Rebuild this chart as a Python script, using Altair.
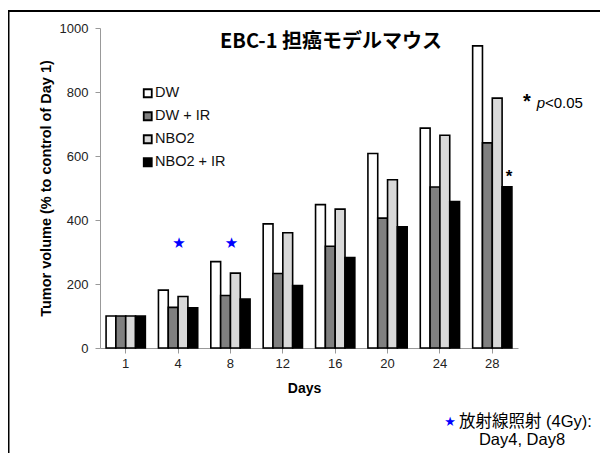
import altair as alt
import pandas as pd

# ---- data ----
days = ["1", "4", "8", "12", "16", "20", "24", "28"]
groups = ["DW", "DW + IR", "NBO2", "NBO2 + IR"]
dw = [100, 181, 270, 388, 448, 608, 687, 944]
dw_ir = [100, 127, 164, 233, 318, 406, 503, 641]
nbo2 = [100, 161, 234, 360, 434, 526, 665, 781]
nbo2_ir = [100, 126, 153, 195, 283, 379, 458, 504]
fill_colors = ["#ffffff", "#808080", "#d9d9d9", "#000000"]
y_ticks = [0, 200, 400, 600, 800, 1000]

irradiation_days = ["4", "8"]
irradiation_marker_level = [328, 328]
significant_day = ["28"]
significant_group = ["NBO2 + IR"]
significant_value = [504]

title_text = "EBC-1 担癌モデルマウス"
y_title = "Tumor volume (% to control of Day 1)"
x_title = "Days"
note_line1 = "放射線照射 (4Gy):"
note_line2 = "Day4, Day8"

# ---- tables ----
series = {"DW": dw, "DW + IR": dw_ir, "NBO2": nbo2, "NBO2 + IR": nbo2_ir}
rows = [{"Day": d, "Group": g, "Volume": v}
        for g in groups for d, v in zip(days, series[g])]
df = pd.DataFrame(rows)
stars_df = pd.DataFrame({"Day": irradiation_days, "Level": irradiation_marker_level})
sig_df = pd.DataFrame({"Day": significant_day, "Group": significant_group,
                       "Volume": significant_value})

W, H = 418, 320
LATIN = "Liberation Sans"
MIXED = "Liberation Sans, Noto Sans CJK JP"

x_scale = alt.Scale(domain=days, paddingInner=0.25, paddingOuter=0.116)
xo_scale = alt.Scale(domain=groups, paddingInner=0, paddingOuter=0)
y_scale = alt.Scale(domain=[0, 1000], nice=False)

bars = alt.Chart(df).mark_bar(stroke="black", strokeWidth=1.6).encode(
    x=alt.X("Day:N", scale=x_scale,
            axis=alt.Axis(title=x_title, labelAngle=0, tickSize=5, labelPadding=4,
                          titlePadding=11, titleX=204, labelFontSize=13,
                          titleFontSize=14)),
    xOffset=alt.XOffset("Group:N", scale=xo_scale),
    y=alt.Y("Volume:Q", scale=y_scale,
            axis=alt.Axis(title=y_title, values=y_ticks, format="d", tickSize=5,
                          labelPadding=7, titlePadding=6, labelFontSize=13,
                          titleFontSize=14.5)),
    fill=alt.Fill("Group:N", scale=alt.Scale(domain=groups, range=fill_colors),
                  legend=alt.Legend(orient="none", legendX=40.5, legendY=58, title=None,
                                    symbolType="square", symbolSize=64,
                                    symbolStrokeColor="black", symbolStrokeWidth=1.8,
                                    labelFontSize=14.5, labelFont=LATIN,
                                    labelColor="#111111", rowPadding=7,
                                    labelOffset=0, padding=0)),
)

stars = alt.Chart(stars_df).mark_text(
    text="★", color="#0000ff", fontSize=15, font="DejaVu Sans", baseline="middle", dx=1
).encode(x=alt.X("Day:N", scale=x_scale), y=alt.Y("Level:Q", scale=y_scale))

sig = alt.Chart(sig_df).mark_text(
    text="*", fontSize=17, fontWeight="bold", font=LATIN, baseline="alphabetic",
    dy=-5, dx=2, color="black"
).encode(x=alt.X("Day:N", scale=x_scale),
         xOffset=alt.XOffset("Group:N", scale=xo_scale),
         y=alt.Y("Volume:Q", scale=y_scale))

dummy = pd.DataFrame({"k": [0]})


def note(text, x, y, **kw):
    return alt.Chart(pd.DataFrame({"label": [text]})).mark_text(**kw).encode(
        x=alt.value(x), y=alt.value(y), text="label:N")


title = note(title_text, 231, 13.5, font="Noto Sans CJK JP", fontWeight="bold",
             fontSize=20, align="center", baseline="middle", color="black")
p_star = note("*", 423, 80, font=LATIN, fontWeight="bold", fontSize=20,
              align="left", baseline="alphabetic", color="black")
p_p = note("p", 436.7, 80, font=LATIN, fontStyle="italic", fontSize=15,
           align="left", baseline="alphabetic", color="black")
p_rest = note("<0.05", 445, 80, font=LATIN, fontSize=15,
              align="left", baseline="alphabetic", color="black")
note_star = note("★", 350, 394, font="DejaVu Sans", fontSize=13, color="#0000ff",
                 align="center", baseline="middle")
note1 = note(note_line1, 359, 393.7, font=MIXED, fontSize=16.5, align="left",
             baseline="middle", color="black")
note2 = note(note_line2, 422, 412, font=MIXED, fontSize=16.5, align="center",
             baseline="middle", color="black")

frame_top = alt.Chart(dummy).mark_rule(color="black", strokeWidth=2).encode(
    x=alt.value(-92), x2=alt.value(510), y=alt.value(-17))
frame_left = alt.Chart(dummy).mark_rule(color="black", strokeWidth=2).encode(
    x=alt.value(-91.5), y=alt.value(-17), y2=alt.value(440))

chart = alt.layer(
    bars, stars, sig, title, p_star, p_p, p_rest, note_star, note1, note2,
    frame_top, frame_left
).properties(
    width=W, height=H,
    padding={"left": 92, "top": 20, "right": 82, "bottom": 105},
    autosize=alt.AutoSizeParams(type="none"),
).configure_axis(
    domainColor="#999999", tickColor="#999999", labelColor="#222222",
    titleColor="#000000", labelFont=LATIN, titleFont=LATIN,
    titleFontWeight="bold", grid=False,
).configure_view(stroke=None)

chart.save("out.html", embed_options={"renderer": "svg", "actions": False})
